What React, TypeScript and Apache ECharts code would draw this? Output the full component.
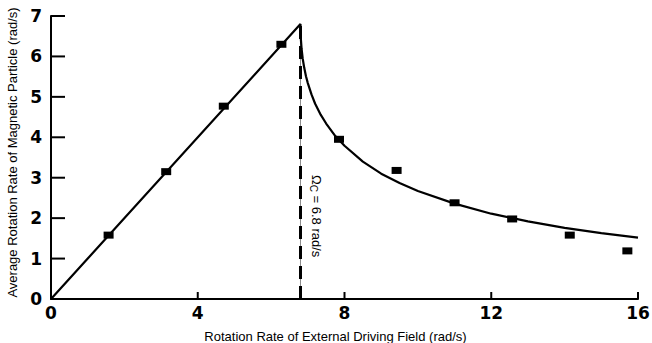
import React, { useEffect, useRef } from "react";
import * as echarts from "echarts";

// Measured data points (square markers)
const pointX = [1.57, 3.14, 4.71, 6.28, 7.85, 9.42, 11.0, 12.57, 14.14, 15.71];
const pointY = [1.58, 3.15, 4.77, 6.3, 3.95, 3.18, 2.38, 1.98, 1.58, 1.19];

// Theory curve
const curveX = [0, 6.8, 6.81, 6.83, 6.86, 6.9, 6.95, 7.0, 7.1, 7.2, 7.35, 7.5, 7.75, 8, 8.5, 9, 9.5, 10, 11, 12, 13, 14, 15, 16];
const curveY = [0, 6.8, 6.44, 6.19, 5.95, 5.73, 5.51, 5.34, 5.06, 4.83, 4.56, 4.34, 4.03, 3.79, 3.4, 3.1, 2.87, 2.67, 2.36, 2.11, 1.92, 1.76, 1.63, 1.52];

// Critical frequency marker
const criticalX = 6.8;
const criticalTop = 6.75;

const xTicks = [0, 4, 8, 12, 16];
const yTicks = [0, 1, 2, 3, 4, 5, 6, 7];

const xName = "Rotation Rate of External Driving Field (rad/s)";
const yName = "Average Rotation Rate of Magnetic Particle (rad/s)";

export default function App() {
  const ref = useRef<HTMLDivElement>(null);
  useEffect(() => {
    if (!ref.current) return;
    const chart = echarts.init(ref.current, null, { renderer: "svg" });
    const tickFont = {
      fontFamily: "DejaVu Sans",
      fontWeight: "bold" as const,
      fontSize: 17,
      color: "#000",
    };
    chart.setOption({
      animation: false,
      backgroundColor: "#fff",
      grid: { left: 51, right: 14, top: 16, bottom: 44, containLabel: false, outerBoundsMode: "none" },
      xAxis: {
        type: "value",
        min: xTicks[0],
        max: xTicks[xTicks.length - 1],
        interval: 4,
        splitLine: { show: false },
        axisLine: { show: true, lineStyle: { color: "#000", width: 2 } },
        axisTick: { show: false },
        axisLabel: { ...tickFont, margin: 5 },
        name: xName,
        nameLocation: "middle",
        nameGap: 31,
        nameTextStyle: { fontFamily: "Liberation Sans", fontSize: 13, color: "#000", padding: [0, 18, 0, 0] },
      },
      yAxis: {
        type: "value",
        min: yTicks[0],
        max: yTicks[yTicks.length - 1],
        interval: 1,
        splitLine: { show: false },
        axisLine: { show: true, lineStyle: { color: "#000", width: 2 } },
        axisTick: { show: false },
        axisLabel: { ...tickFont, margin: 9 },
        name: yName,
        nameLocation: "middle",
        nameGap: 31,
        nameTextStyle: { fontFamily: "Liberation Sans", fontSize: 13, color: "#000", padding: [0, 0, 0, 10] },
      },
      series: [
        {
          type: "line",
          data: [[criticalX, 0], [criticalX, criticalTop]],
          showSymbol: false,
          lineStyle: { color: "#888", width: 1 },
          z: 1,
        },
        {
          type: "line",
          data: [[criticalX, 0], [criticalX, criticalTop]],
          showSymbol: false,
          lineStyle: { color: "#000", width: 3, type: [13, 7] },
          z: 2,
        },
        {
          type: "line",
          data: curveX.map((x, i) => [x, curveY[i]]),
          showSymbol: false,
          lineStyle: { color: "#000", width: 2.2 },
          z: 3,
        },
        {
          type: "scatter",
          data: pointX.map((x, i) => [x, pointY[i]]),
          symbol: "rect",
          symbolSize: [10, 7],
          itemStyle: { color: "#000", opacity: 1 },
          z: 4,
        },
        {
          type: "scatter",
          data: [[7.25, 2.05]],
          symbolSize: 0,
          itemStyle: { opacity: 1 },
          label: {
            show: true,
            position: "inside",
            rotate: -90,
            color: "#000",
            opacity: 1,
            formatter: "{a|Ω}{b|C}{a| = 6.8 rad/s}",
            rich: {
              a: { fontFamily: "Liberation Sans", fontSize: 13, color: "#000" },
              b: { fontFamily: "Liberation Sans", fontSize: 10, color: "#000", verticalAlign: "bottom", padding: [6, 0, 0, 0] },
            },
          },
          z: 5,
        },
        // Inward axis ticks, one rect per tick value, placed through the axes
        {
          type: "scatter",
          data: xTicks.map((v) => [v, 0]),
          symbol: "rect",
          symbolSize: [2, 7],
          symbolOffset: [0, -3.5],
          itemStyle: { color: "#000", opacity: 1 },
          clip: false,
          silent: true,
          z: 6,
        },
        {
          type: "scatter",
          data: yTicks.map((v) => [0, v]),
          symbol: "rect",
          symbolSize: [14, 2],
          symbolOffset: [7, 0],
          itemStyle: { color: "#000", opacity: 1 },
          clip: false,
          silent: true,
          z: 6,
        },
      ],
    });
    return () => chart.dispose();
  }, []);
  return (
    <div
      ref={ref}
      style={{ position: "fixed", left: 0, top: 0, width: 652, height: 343, background: "#fff" }}
    />
  );
}
